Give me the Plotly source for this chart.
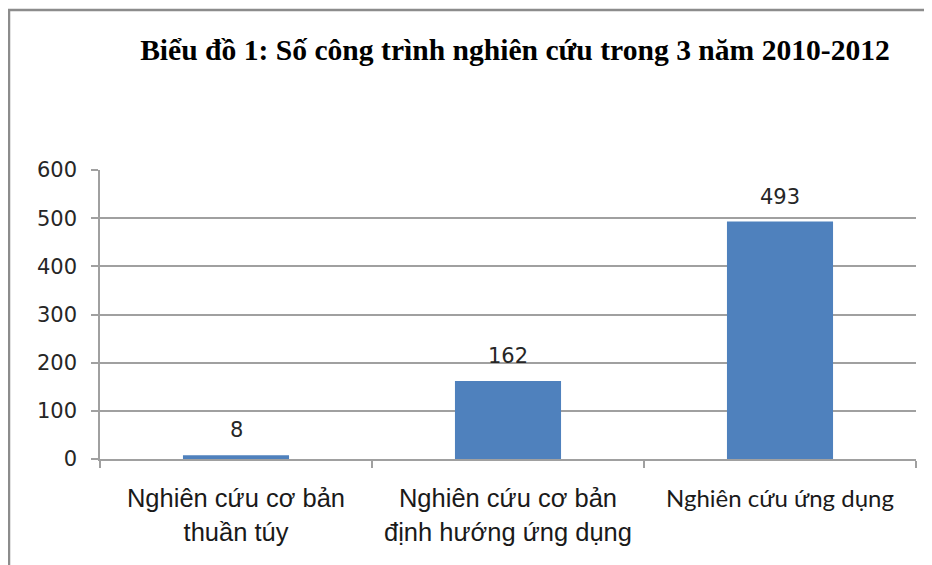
import plotly.graph_objects as go

categories = ["Nghiên cứu cơ bản<br>thuần túy",
              "Nghiên cứu cơ bản<br>định hướng ứng dụng",
              "Nghiên cứu ứng dụng"]
values = [8, 162, 493]
y_ticks = [0, 100, 200, 300, 400, 500, 600]
title_text = "Biểu đồ 1: Số công trình nghiên cứu trong 3 năm 2010-2012"

# page body has an 8px offset, so figure coordinates are screen - 8
OFF = 8
W, H = 932 - OFF, 565 - OFF
L, R, T, B = 100 - OFF, 932 - 916, 170 - OFF, 565 - 459
pw, ph = W - L - R, H - T - B

def px_x(x):
    return (x - OFF - L) / pw

def px_y(y):
    return (H - B - (y - OFF)) / ph

fig = go.Figure()
fig.add_trace(go.Bar(x=categories, y=values, marker=dict(color="#4F81BD", line=dict(width=0)),
                     showlegend=False, hoverinfo="x+y"))

for c, v in zip(categories, values):
    fig.add_annotation(x=c, y=v, text=str(v), showarrow=False, yanchor="bottom", yshift=11,
                       font=dict(family="DejaVu Sans", size=21, color="#262626"))

fig.add_shape(type="rect", xref="paper", yref="paper",
              x0=px_x(9), x1=px_x(980), y0=px_y(620), y1=px_y(10),
              line=dict(color="#8C8C8C", width=2.5), fillcolor="rgba(0,0,0,0)", layer="below")

ticktext = [c if i < 2 else '<span style="font-family:Lato;font-size:24px">' + c + '</span>'
            for i, c in enumerate(categories)]

fig.update_layout(
    width=W, height=H,
    margin=dict(l=L, r=R, t=T, b=B),
    paper_bgcolor="white", plot_bgcolor="white",
    bargap=0.61,
    title=dict(text="<b>" + title_text + "</b>", x=(515 - OFF) / W, xanchor="center",
               y=1 - (50 - OFF) / H, yanchor="middle", yref="container",
               font=dict(family="Liberation Serif", size=29.6, color="black")),
    xaxis=dict(showline=True, linecolor="#A0A0A0", linewidth=1.5,
               ticks="outside", tickson="boundaries", ticklen=7, tickcolor="#A0A0A0", tickwidth=1.5,
               ticklabelstandoff=16, tickmode="array", tickvals=categories, ticktext=ticktext,
               tickfont=dict(family="Liberation Sans", size=25.5, color="#1a1a1a"), showgrid=False),
    yaxis=dict(range=[0, 600], tickvals=y_ticks, showline=True, linecolor="#A0A0A0", linewidth=1.5,
               ticks="outside", ticklen=7, tickcolor="#A0A0A0", tickwidth=1.5,
               showgrid=True, gridcolor="#A0A0A0", gridwidth=1.5, zeroline=False,
               ticklabelstandoff=10,
               tickfont=dict(family="DejaVu Sans", size=21, color="#262626")),
)

fig.write_html("out.html")
